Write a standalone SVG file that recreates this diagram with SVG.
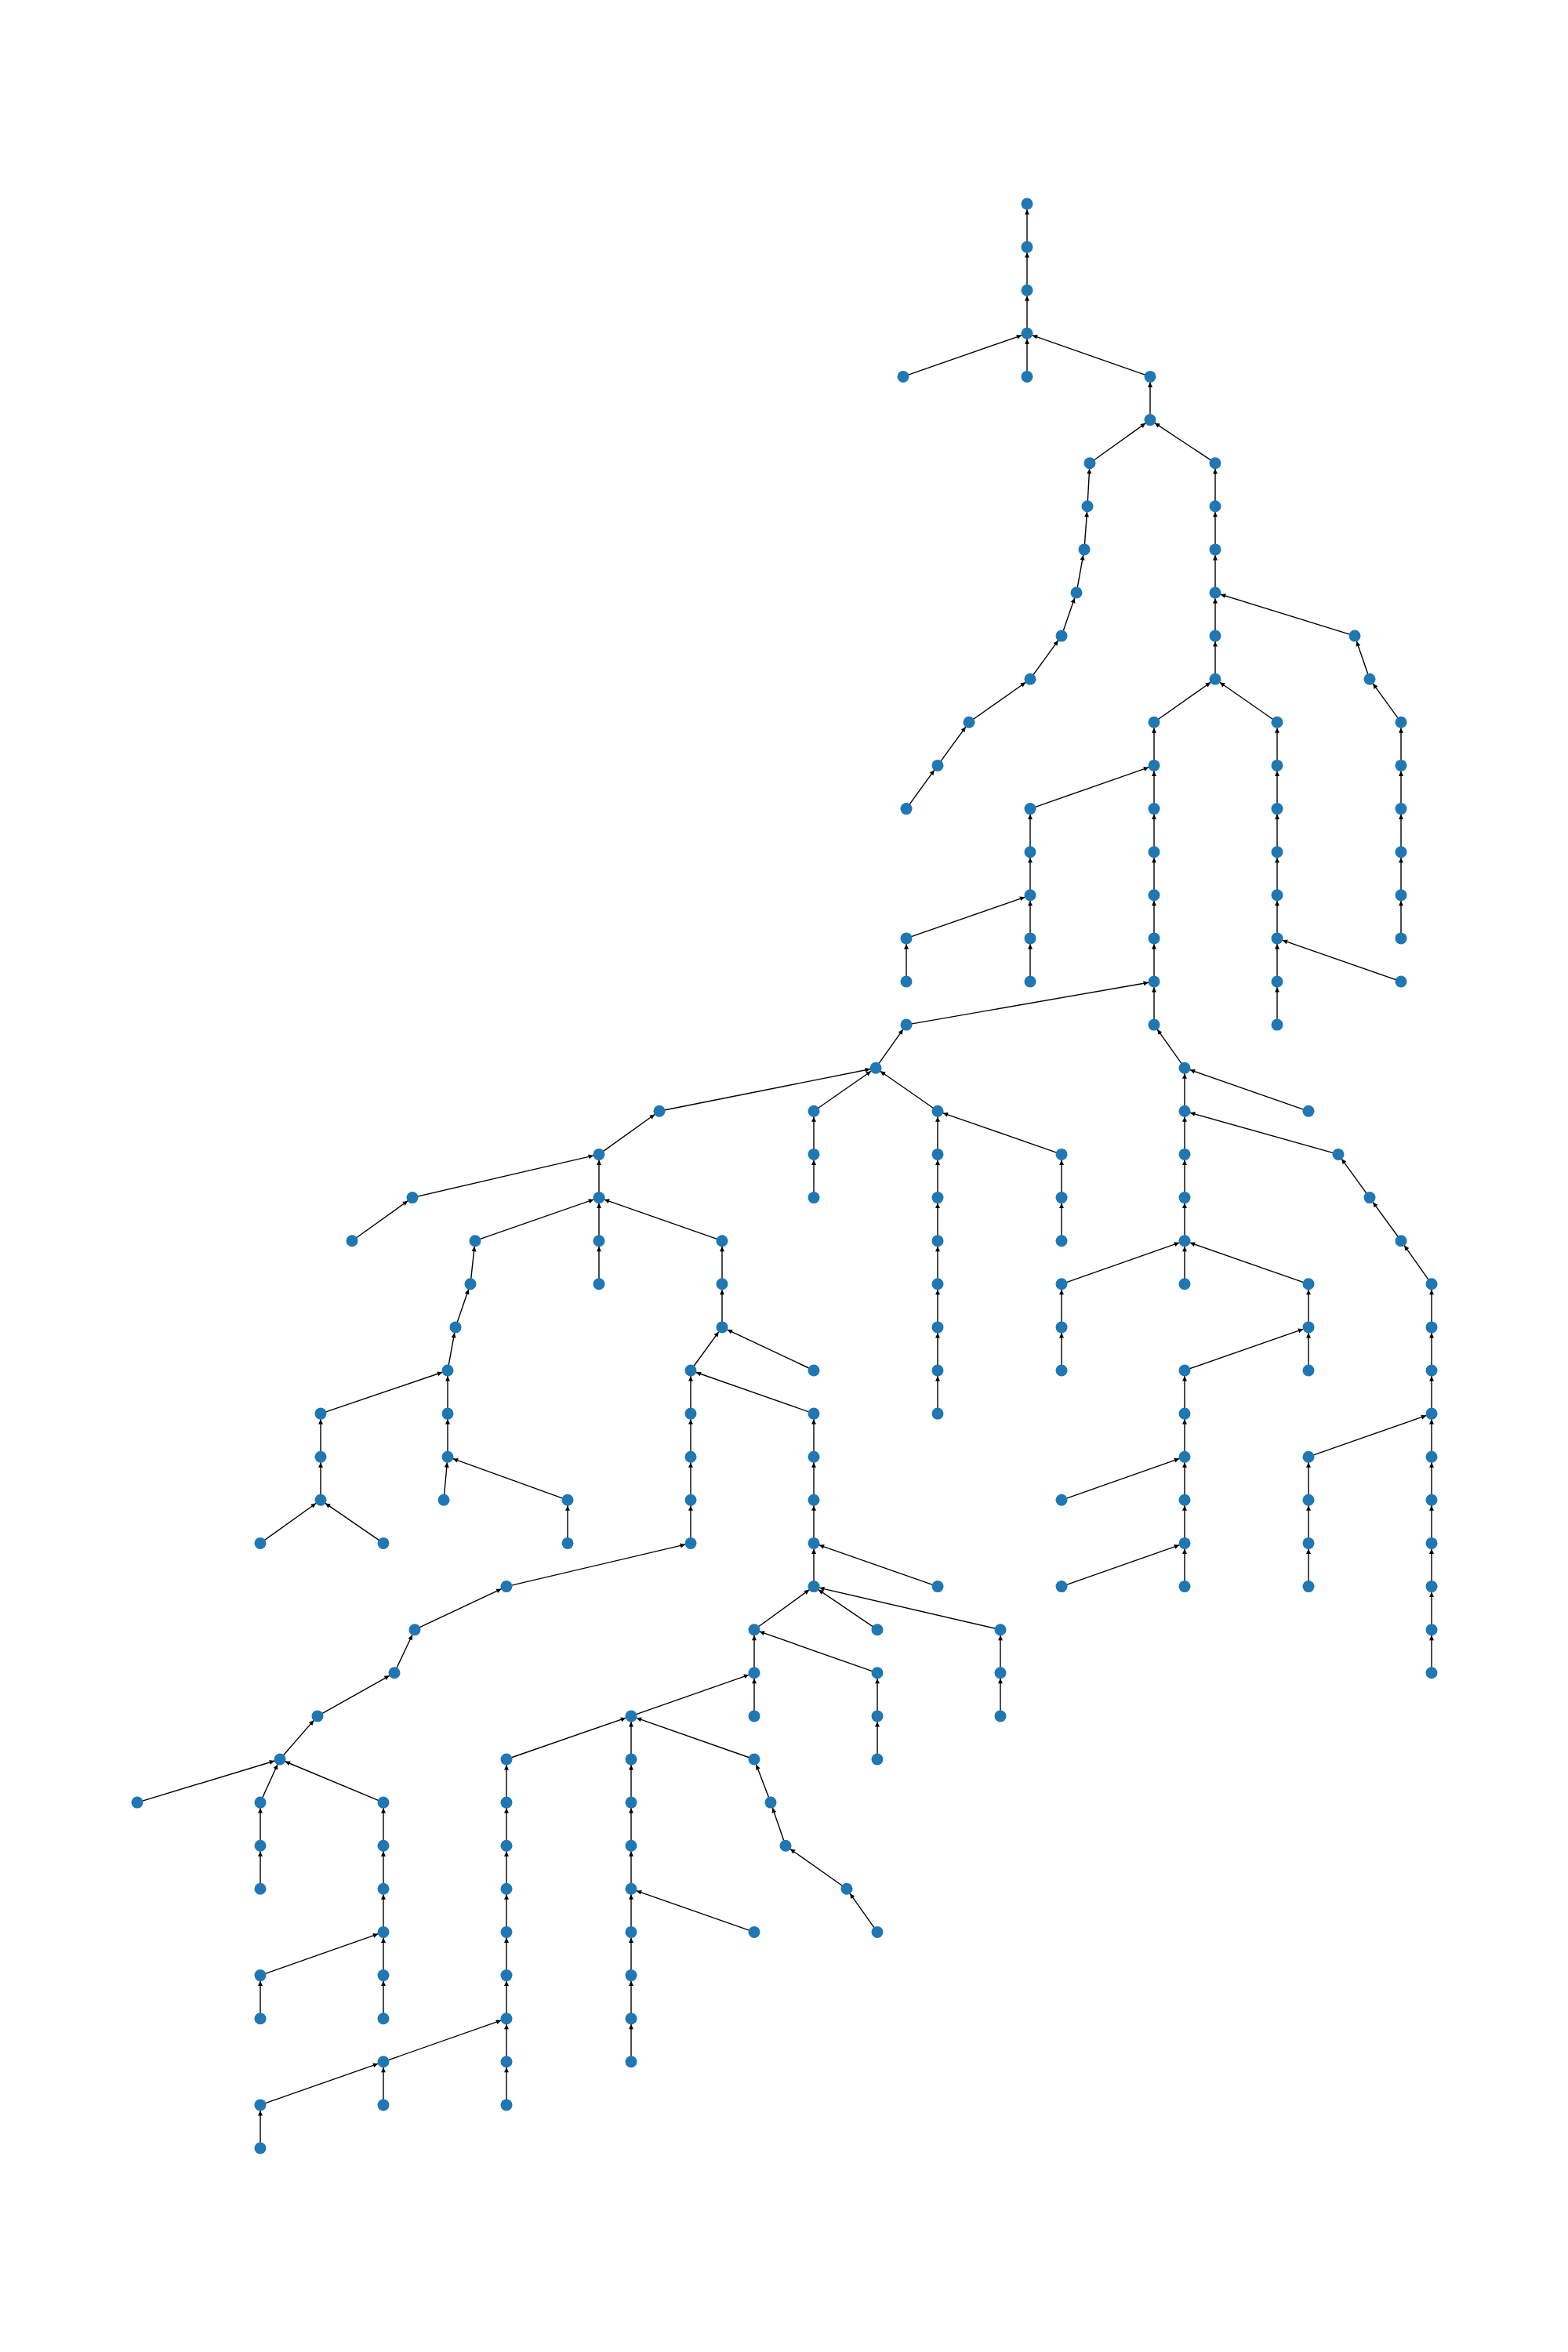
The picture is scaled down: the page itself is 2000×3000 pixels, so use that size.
<svg xmlns="http://www.w3.org/2000/svg" width="2000" height="3000" viewBox="0 0 2000 3000">
<style>
.e line{stroke:#000;stroke-width:1.4;marker-end:url(#ah)}
.n circle{fill:#1f77b4}
</style>
<defs>
<marker id="ah" markerUnits="userSpaceOnUse" markerWidth="15" markerHeight="6" refX="13.5" refY="3" orient="auto" overflow="visible"><path d="M0,0 L6.3,3 L0,6 z" fill="#000"/></marker>
</defs>
<rect width="2000" height="3000" fill="#fff"/>
<g id="edges" class="e">
<line x1="1310" y1="315.1" x2="1310" y2="260"/>
<line x1="1310" y1="370.2" x2="1310" y2="315.1"/>
<line x1="1310" y1="425.3" x2="1310" y2="370.2"/>
<line x1="1152" y1="480.4" x2="1310" y2="425.3"/>
<line x1="1310" y1="480.4" x2="1310" y2="425.3"/>
<line x1="1467" y1="480.4" x2="1310" y2="425.3"/>
<line x1="1467" y1="535.6" x2="1467" y2="480.4"/>
<line x1="1390" y1="590.7" x2="1467" y2="535.6"/>
<line x1="1550" y1="590.7" x2="1467" y2="535.6"/>
<line x1="1387" y1="645.8" x2="1390" y2="590.7"/>
<line x1="1550" y1="645.8" x2="1550" y2="590.7"/>
<line x1="1383" y1="700.9" x2="1387" y2="645.8"/>
<line x1="1550" y1="700.9" x2="1550" y2="645.8"/>
<line x1="1373" y1="756" x2="1383" y2="700.9"/>
<line x1="1550" y1="756" x2="1550" y2="700.9"/>
<line x1="1354" y1="811.1" x2="1373" y2="756"/>
<line x1="1550" y1="811.1" x2="1550" y2="756"/>
<line x1="1728" y1="811.1" x2="1550" y2="756"/>
<line x1="1314" y1="866.2" x2="1354" y2="811.1"/>
<line x1="1550" y1="866.2" x2="1550" y2="811.1"/>
<line x1="1747" y1="866.2" x2="1728" y2="811.1"/>
<line x1="1236" y1="921.3" x2="1314" y2="866.2"/>
<line x1="1472" y1="921.3" x2="1550" y2="866.2"/>
<line x1="1629" y1="921.3" x2="1550" y2="866.2"/>
<line x1="1787" y1="921.3" x2="1747" y2="866.2"/>
<line x1="1196" y1="976.4" x2="1236" y2="921.3"/>
<line x1="1472" y1="976.4" x2="1472" y2="921.3"/>
<line x1="1629" y1="976.4" x2="1629" y2="921.3"/>
<line x1="1787" y1="976.4" x2="1787" y2="921.3"/>
<line x1="1156" y1="1031.6" x2="1196" y2="976.4"/>
<line x1="1314" y1="1031.6" x2="1472" y2="976.4"/>
<line x1="1472" y1="1031.6" x2="1472" y2="976.4"/>
<line x1="1629" y1="1031.6" x2="1629" y2="976.4"/>
<line x1="1787" y1="1031.6" x2="1787" y2="976.4"/>
<line x1="1314" y1="1086.7" x2="1314" y2="1031.6"/>
<line x1="1472" y1="1086.7" x2="1472" y2="1031.6"/>
<line x1="1629" y1="1086.7" x2="1629" y2="1031.6"/>
<line x1="1787" y1="1086.7" x2="1787" y2="1031.6"/>
<line x1="1314" y1="1141.8" x2="1314" y2="1086.7"/>
<line x1="1472" y1="1141.8" x2="1472" y2="1086.7"/>
<line x1="1629" y1="1141.8" x2="1629" y2="1086.7"/>
<line x1="1787" y1="1141.8" x2="1787" y2="1086.7"/>
<line x1="1156" y1="1196.9" x2="1314" y2="1141.8"/>
<line x1="1314" y1="1196.9" x2="1314" y2="1141.8"/>
<line x1="1472" y1="1196.9" x2="1472" y2="1141.8"/>
<line x1="1629" y1="1196.9" x2="1629" y2="1141.8"/>
<line x1="1787" y1="1196.9" x2="1787" y2="1141.8"/>
<line x1="1156" y1="1252" x2="1156" y2="1196.9"/>
<line x1="1314" y1="1252" x2="1314" y2="1196.9"/>
<line x1="1472" y1="1252" x2="1472" y2="1196.9"/>
<line x1="1629" y1="1252" x2="1629" y2="1196.9"/>
<line x1="1787" y1="1252" x2="1629" y2="1196.9"/>
<line x1="1156" y1="1307.1" x2="1472" y2="1252"/>
<line x1="1472" y1="1307.1" x2="1472" y2="1252"/>
<line x1="1629" y1="1307.1" x2="1629" y2="1252"/>
<line x1="1117" y1="1362.2" x2="1156" y2="1307.1"/>
<line x1="1511" y1="1362.2" x2="1472" y2="1307.1"/>
<line x1="841" y1="1417.3" x2="1117" y2="1362.2"/>
<line x1="1038" y1="1417.3" x2="1117" y2="1362.2"/>
<line x1="1196" y1="1417.3" x2="1117" y2="1362.2"/>
<line x1="1511" y1="1417.3" x2="1511" y2="1362.2"/>
<line x1="1669" y1="1417.3" x2="1511" y2="1362.2"/>
<line x1="764" y1="1472.4" x2="841" y2="1417.3"/>
<line x1="1038" y1="1472.4" x2="1038" y2="1417.3"/>
<line x1="1196" y1="1472.4" x2="1196" y2="1417.3"/>
<line x1="1354" y1="1472.4" x2="1196" y2="1417.3"/>
<line x1="1511" y1="1472.4" x2="1511" y2="1417.3"/>
<line x1="1707" y1="1472.4" x2="1511" y2="1417.3"/>
<line x1="526" y1="1527.6" x2="764" y2="1472.4"/>
<line x1="764" y1="1527.6" x2="764" y2="1472.4"/>
<line x1="1038" y1="1527.6" x2="1038" y2="1472.4"/>
<line x1="1196" y1="1527.6" x2="1196" y2="1472.4"/>
<line x1="1354" y1="1527.6" x2="1354" y2="1472.4"/>
<line x1="1511" y1="1527.6" x2="1511" y2="1472.4"/>
<line x1="1747" y1="1527.6" x2="1707" y2="1472.4"/>
<line x1="449" y1="1582.7" x2="526" y2="1527.6"/>
<line x1="606" y1="1582.7" x2="764" y2="1527.6"/>
<line x1="764" y1="1582.7" x2="764" y2="1527.6"/>
<line x1="921" y1="1582.7" x2="764" y2="1527.6"/>
<line x1="1196" y1="1582.7" x2="1196" y2="1527.6"/>
<line x1="1354" y1="1582.7" x2="1354" y2="1527.6"/>
<line x1="1511" y1="1582.7" x2="1511" y2="1527.6"/>
<line x1="1787" y1="1582.7" x2="1747" y2="1527.6"/>
<line x1="600" y1="1637.8" x2="606" y2="1582.7"/>
<line x1="764" y1="1637.8" x2="764" y2="1582.7"/>
<line x1="921" y1="1637.8" x2="921" y2="1582.7"/>
<line x1="1196" y1="1637.8" x2="1196" y2="1582.7"/>
<line x1="1354" y1="1637.8" x2="1511" y2="1582.7"/>
<line x1="1511" y1="1637.8" x2="1511" y2="1582.7"/>
<line x1="1669" y1="1637.8" x2="1511" y2="1582.7"/>
<line x1="1826" y1="1637.8" x2="1787" y2="1582.7"/>
<line x1="581" y1="1692.9" x2="600" y2="1637.8"/>
<line x1="921" y1="1692.9" x2="921" y2="1637.8"/>
<line x1="1196" y1="1692.9" x2="1196" y2="1637.8"/>
<line x1="1354" y1="1692.9" x2="1354" y2="1637.8"/>
<line x1="1669" y1="1692.9" x2="1669" y2="1637.8"/>
<line x1="1826" y1="1692.9" x2="1826" y2="1637.8"/>
<line x1="571" y1="1748" x2="581" y2="1692.9"/>
<line x1="881" y1="1748" x2="921" y2="1692.9"/>
<line x1="1038" y1="1748" x2="921" y2="1692.9"/>
<line x1="1196" y1="1748" x2="1196" y2="1692.9"/>
<line x1="1354" y1="1748" x2="1354" y2="1692.9"/>
<line x1="1511" y1="1748" x2="1669" y2="1692.9"/>
<line x1="1669" y1="1748" x2="1669" y2="1692.9"/>
<line x1="1826" y1="1748" x2="1826" y2="1692.9"/>
<line x1="409" y1="1803.1" x2="571" y2="1748"/>
<line x1="571" y1="1803.1" x2="571" y2="1748"/>
<line x1="881" y1="1803.1" x2="881" y2="1748"/>
<line x1="1038" y1="1803.1" x2="881" y2="1748"/>
<line x1="1196" y1="1803.1" x2="1196" y2="1748"/>
<line x1="1511" y1="1803.1" x2="1511" y2="1748"/>
<line x1="1826" y1="1803.1" x2="1826" y2="1748"/>
<line x1="409" y1="1858.2" x2="409" y2="1803.1"/>
<line x1="571" y1="1858.2" x2="571" y2="1803.1"/>
<line x1="881" y1="1858.2" x2="881" y2="1803.1"/>
<line x1="1038" y1="1858.2" x2="1038" y2="1803.1"/>
<line x1="1511" y1="1858.2" x2="1511" y2="1803.1"/>
<line x1="1669" y1="1858.2" x2="1826" y2="1803.1"/>
<line x1="1826" y1="1858.2" x2="1826" y2="1803.1"/>
<line x1="409" y1="1913.3" x2="409" y2="1858.2"/>
<line x1="566" y1="1913.3" x2="571" y2="1858.2"/>
<line x1="724" y1="1913.3" x2="571" y2="1858.2"/>
<line x1="881" y1="1913.3" x2="881" y2="1858.2"/>
<line x1="1038" y1="1913.3" x2="1038" y2="1858.2"/>
<line x1="1354" y1="1913.3" x2="1511" y2="1858.2"/>
<line x1="1511" y1="1913.3" x2="1511" y2="1858.2"/>
<line x1="1669" y1="1913.3" x2="1669" y2="1858.2"/>
<line x1="1826" y1="1913.3" x2="1826" y2="1858.2"/>
<line x1="332" y1="1968.4" x2="409" y2="1913.3"/>
<line x1="489" y1="1968.4" x2="409" y2="1913.3"/>
<line x1="724" y1="1968.4" x2="724" y2="1913.3"/>
<line x1="881" y1="1968.4" x2="881" y2="1913.3"/>
<line x1="1038" y1="1968.4" x2="1038" y2="1913.3"/>
<line x1="1511" y1="1968.4" x2="1511" y2="1913.3"/>
<line x1="1669" y1="1968.4" x2="1669" y2="1913.3"/>
<line x1="1826" y1="1968.4" x2="1826" y2="1913.3"/>
<line x1="646" y1="2023.6" x2="881" y2="1968.4"/>
<line x1="1038" y1="2023.6" x2="1038" y2="1968.4"/>
<line x1="1196" y1="2023.6" x2="1038" y2="1968.4"/>
<line x1="1354" y1="2023.6" x2="1511" y2="1968.4"/>
<line x1="1511" y1="2023.6" x2="1511" y2="1968.4"/>
<line x1="1669" y1="2023.6" x2="1669" y2="1968.4"/>
<line x1="1826" y1="2023.6" x2="1826" y2="1968.4"/>
<line x1="529" y1="2078.7" x2="646" y2="2023.6"/>
<line x1="962" y1="2078.7" x2="1038" y2="2023.6"/>
<line x1="1119" y1="2078.7" x2="1038" y2="2023.6"/>
<line x1="1276" y1="2078.7" x2="1038" y2="2023.6"/>
<line x1="1826" y1="2078.7" x2="1826" y2="2023.6"/>
<line x1="503" y1="2133.8" x2="529" y2="2078.7"/>
<line x1="962" y1="2133.8" x2="962" y2="2078.7"/>
<line x1="1119" y1="2133.8" x2="962" y2="2078.7"/>
<line x1="1276" y1="2133.8" x2="1276" y2="2078.7"/>
<line x1="1826" y1="2133.8" x2="1826" y2="2078.7"/>
<line x1="405" y1="2188.9" x2="503" y2="2133.8"/>
<line x1="805" y1="2188.9" x2="962" y2="2133.8"/>
<line x1="962" y1="2188.9" x2="962" y2="2133.8"/>
<line x1="1119" y1="2188.9" x2="1119" y2="2133.8"/>
<line x1="1276" y1="2188.9" x2="1276" y2="2133.8"/>
<line x1="357" y1="2244" x2="405" y2="2188.9"/>
<line x1="646" y1="2244" x2="805" y2="2188.9"/>
<line x1="805" y1="2244" x2="805" y2="2188.9"/>
<line x1="962" y1="2244" x2="805" y2="2188.9"/>
<line x1="1119" y1="2244" x2="1119" y2="2188.9"/>
<line x1="175" y1="2299.1" x2="357" y2="2244"/>
<line x1="332" y1="2299.1" x2="357" y2="2244"/>
<line x1="489" y1="2299.1" x2="357" y2="2244"/>
<line x1="646" y1="2299.1" x2="646" y2="2244"/>
<line x1="805" y1="2299.1" x2="805" y2="2244"/>
<line x1="983" y1="2299.1" x2="962" y2="2244"/>
<line x1="332" y1="2354.2" x2="332" y2="2299.1"/>
<line x1="489" y1="2354.2" x2="489" y2="2299.1"/>
<line x1="646" y1="2354.2" x2="646" y2="2299.1"/>
<line x1="805" y1="2354.2" x2="805" y2="2299.1"/>
<line x1="1002" y1="2354.2" x2="983" y2="2299.1"/>
<line x1="332" y1="2409.3" x2="332" y2="2354.2"/>
<line x1="489" y1="2409.3" x2="489" y2="2354.2"/>
<line x1="646" y1="2409.3" x2="646" y2="2354.2"/>
<line x1="805" y1="2409.3" x2="805" y2="2354.2"/>
<line x1="1080" y1="2409.3" x2="1002" y2="2354.2"/>
<line x1="489" y1="2464.4" x2="489" y2="2409.3"/>
<line x1="646" y1="2464.4" x2="646" y2="2409.3"/>
<line x1="805" y1="2464.4" x2="805" y2="2409.3"/>
<line x1="962" y1="2464.4" x2="805" y2="2409.3"/>
<line x1="1119" y1="2464.4" x2="1080" y2="2409.3"/>
<line x1="332" y1="2519.6" x2="489" y2="2464.4"/>
<line x1="489" y1="2519.6" x2="489" y2="2464.4"/>
<line x1="646" y1="2519.6" x2="646" y2="2464.4"/>
<line x1="805" y1="2519.6" x2="805" y2="2464.4"/>
<line x1="332" y1="2574.7" x2="332" y2="2519.6"/>
<line x1="489" y1="2574.7" x2="489" y2="2519.6"/>
<line x1="646" y1="2574.7" x2="646" y2="2519.6"/>
<line x1="805" y1="2574.7" x2="805" y2="2519.6"/>
<line x1="489" y1="2629.8" x2="646" y2="2574.7"/>
<line x1="646" y1="2629.8" x2="646" y2="2574.7"/>
<line x1="805" y1="2629.8" x2="805" y2="2574.7"/>
<line x1="332" y1="2684.9" x2="489" y2="2629.8"/>
<line x1="489" y1="2684.9" x2="489" y2="2629.8"/>
<line x1="646" y1="2684.9" x2="646" y2="2629.8"/>
<line x1="332" y1="2740" x2="332" y2="2684.9"/>
</g>
<g id="nodes" class="n">
<g id="n1"><circle cx="1310" cy="260" r="7.5"/></g>
<g id="n2"><circle cx="1310" cy="315.1" r="7.5"/></g>
<g id="n3"><circle cx="1310" cy="370.2" r="7.5"/></g>
<g id="n4"><circle cx="1310" cy="425.3" r="7.5"/></g>
<g id="n5"><circle cx="1152" cy="480.4" r="7.5"/></g>
<g id="n6"><circle cx="1310" cy="480.4" r="7.5"/></g>
<g id="n7"><circle cx="1467" cy="480.4" r="7.5"/></g>
<g id="n8"><circle cx="1467" cy="535.6" r="7.5"/></g>
<g id="n9"><circle cx="1390" cy="590.7" r="7.5"/></g>
<g id="n10"><circle cx="1550" cy="590.7" r="7.5"/></g>
<g id="n11"><circle cx="1387" cy="645.8" r="7.5"/></g>
<g id="n12"><circle cx="1550" cy="645.8" r="7.5"/></g>
<g id="n13"><circle cx="1383" cy="700.9" r="7.5"/></g>
<g id="n14"><circle cx="1550" cy="700.9" r="7.5"/></g>
<g id="n15"><circle cx="1373" cy="756" r="7.5"/></g>
<g id="n16"><circle cx="1550" cy="756" r="7.5"/></g>
<g id="n17"><circle cx="1354" cy="811.1" r="7.5"/></g>
<g id="n18"><circle cx="1550" cy="811.1" r="7.5"/></g>
<g id="n19"><circle cx="1728" cy="811.1" r="7.5"/></g>
<g id="n20"><circle cx="1314" cy="866.2" r="7.5"/></g>
<g id="n21"><circle cx="1550" cy="866.2" r="7.5"/></g>
<g id="n22"><circle cx="1747" cy="866.2" r="7.5"/></g>
<g id="n23"><circle cx="1236" cy="921.3" r="7.5"/></g>
<g id="n24"><circle cx="1472" cy="921.3" r="7.5"/></g>
<g id="n25"><circle cx="1629" cy="921.3" r="7.5"/></g>
<g id="n26"><circle cx="1787" cy="921.3" r="7.5"/></g>
<g id="n27"><circle cx="1196" cy="976.4" r="7.5"/></g>
<g id="n28"><circle cx="1472" cy="976.4" r="7.5"/></g>
<g id="n29"><circle cx="1629" cy="976.4" r="7.5"/></g>
<g id="n30"><circle cx="1787" cy="976.4" r="7.5"/></g>
<g id="n31"><circle cx="1156" cy="1031.6" r="7.5"/></g>
<g id="n32"><circle cx="1314" cy="1031.6" r="7.5"/></g>
<g id="n33"><circle cx="1472" cy="1031.6" r="7.5"/></g>
<g id="n34"><circle cx="1629" cy="1031.6" r="7.5"/></g>
<g id="n35"><circle cx="1787" cy="1031.6" r="7.5"/></g>
<g id="n36"><circle cx="1314" cy="1086.7" r="7.5"/></g>
<g id="n37"><circle cx="1472" cy="1086.7" r="7.5"/></g>
<g id="n38"><circle cx="1629" cy="1086.7" r="7.5"/></g>
<g id="n39"><circle cx="1787" cy="1086.7" r="7.5"/></g>
<g id="n40"><circle cx="1314" cy="1141.8" r="7.5"/></g>
<g id="n41"><circle cx="1472" cy="1141.8" r="7.5"/></g>
<g id="n42"><circle cx="1629" cy="1141.8" r="7.5"/></g>
<g id="n43"><circle cx="1787" cy="1141.8" r="7.5"/></g>
<g id="n44"><circle cx="1156" cy="1196.9" r="7.5"/></g>
<g id="n45"><circle cx="1314" cy="1196.9" r="7.5"/></g>
<g id="n46"><circle cx="1472" cy="1196.9" r="7.5"/></g>
<g id="n47"><circle cx="1629" cy="1196.9" r="7.5"/></g>
<g id="n48"><circle cx="1787" cy="1196.9" r="7.5"/></g>
<g id="n49"><circle cx="1156" cy="1252" r="7.5"/></g>
<g id="n50"><circle cx="1314" cy="1252" r="7.5"/></g>
<g id="n51"><circle cx="1472" cy="1252" r="7.5"/></g>
<g id="n52"><circle cx="1629" cy="1252" r="7.5"/></g>
<g id="n53"><circle cx="1787" cy="1252" r="7.5"/></g>
<g id="n54"><circle cx="1156" cy="1307.1" r="7.5"/></g>
<g id="n55"><circle cx="1472" cy="1307.1" r="7.5"/></g>
<g id="n56"><circle cx="1629" cy="1307.1" r="7.5"/></g>
<g id="n57"><circle cx="1117" cy="1362.2" r="7.5"/></g>
<g id="n58"><circle cx="1511" cy="1362.2" r="7.5"/></g>
<g id="n59"><circle cx="841" cy="1417.3" r="7.5"/></g>
<g id="n60"><circle cx="1038" cy="1417.3" r="7.5"/></g>
<g id="n61"><circle cx="1196" cy="1417.3" r="7.5"/></g>
<g id="n62"><circle cx="1511" cy="1417.3" r="7.5"/></g>
<g id="n63"><circle cx="1669" cy="1417.3" r="7.5"/></g>
<g id="n64"><circle cx="764" cy="1472.4" r="7.5"/></g>
<g id="n65"><circle cx="1038" cy="1472.4" r="7.5"/></g>
<g id="n66"><circle cx="1196" cy="1472.4" r="7.5"/></g>
<g id="n67"><circle cx="1354" cy="1472.4" r="7.5"/></g>
<g id="n68"><circle cx="1511" cy="1472.4" r="7.5"/></g>
<g id="n69"><circle cx="1707" cy="1472.4" r="7.5"/></g>
<g id="n70"><circle cx="526" cy="1527.6" r="7.5"/></g>
<g id="n71"><circle cx="764" cy="1527.6" r="7.5"/></g>
<g id="n72"><circle cx="1038" cy="1527.6" r="7.5"/></g>
<g id="n73"><circle cx="1196" cy="1527.6" r="7.5"/></g>
<g id="n74"><circle cx="1354" cy="1527.6" r="7.5"/></g>
<g id="n75"><circle cx="1511" cy="1527.6" r="7.5"/></g>
<g id="n76"><circle cx="1747" cy="1527.6" r="7.5"/></g>
<g id="n77"><circle cx="449" cy="1582.7" r="7.5"/></g>
<g id="n78"><circle cx="606" cy="1582.7" r="7.5"/></g>
<g id="n79"><circle cx="764" cy="1582.7" r="7.5"/></g>
<g id="n80"><circle cx="921" cy="1582.7" r="7.5"/></g>
<g id="n81"><circle cx="1196" cy="1582.7" r="7.5"/></g>
<g id="n82"><circle cx="1354" cy="1582.7" r="7.5"/></g>
<g id="n83"><circle cx="1511" cy="1582.7" r="7.5"/></g>
<g id="n84"><circle cx="1787" cy="1582.7" r="7.5"/></g>
<g id="n85"><circle cx="600" cy="1637.8" r="7.5"/></g>
<g id="n86"><circle cx="764" cy="1637.8" r="7.5"/></g>
<g id="n87"><circle cx="921" cy="1637.8" r="7.5"/></g>
<g id="n88"><circle cx="1196" cy="1637.8" r="7.5"/></g>
<g id="n89"><circle cx="1354" cy="1637.8" r="7.5"/></g>
<g id="n90"><circle cx="1511" cy="1637.8" r="7.5"/></g>
<g id="n91"><circle cx="1669" cy="1637.8" r="7.5"/></g>
<g id="n92"><circle cx="1826" cy="1637.8" r="7.5"/></g>
<g id="n93"><circle cx="581" cy="1692.9" r="7.5"/></g>
<g id="n94"><circle cx="921" cy="1692.9" r="7.5"/></g>
<g id="n95"><circle cx="1196" cy="1692.9" r="7.5"/></g>
<g id="n96"><circle cx="1354" cy="1692.9" r="7.5"/></g>
<g id="n97"><circle cx="1669" cy="1692.9" r="7.5"/></g>
<g id="n98"><circle cx="1826" cy="1692.9" r="7.5"/></g>
<g id="n99"><circle cx="571" cy="1748" r="7.5"/></g>
<g id="n100"><circle cx="881" cy="1748" r="7.5"/></g>
<g id="n101"><circle cx="1038" cy="1748" r="7.5"/></g>
<g id="n102"><circle cx="1196" cy="1748" r="7.5"/></g>
<g id="n103"><circle cx="1354" cy="1748" r="7.5"/></g>
<g id="n104"><circle cx="1511" cy="1748" r="7.5"/></g>
<g id="n105"><circle cx="1669" cy="1748" r="7.5"/></g>
<g id="n106"><circle cx="1826" cy="1748" r="7.5"/></g>
<g id="n107"><circle cx="409" cy="1803.1" r="7.5"/></g>
<g id="n108"><circle cx="571" cy="1803.1" r="7.5"/></g>
<g id="n109"><circle cx="881" cy="1803.1" r="7.5"/></g>
<g id="n110"><circle cx="1038" cy="1803.1" r="7.5"/></g>
<g id="n111"><circle cx="1196" cy="1803.1" r="7.5"/></g>
<g id="n112"><circle cx="1511" cy="1803.1" r="7.5"/></g>
<g id="n113"><circle cx="1826" cy="1803.1" r="7.5"/></g>
<g id="n114"><circle cx="409" cy="1858.2" r="7.5"/></g>
<g id="n115"><circle cx="571" cy="1858.2" r="7.5"/></g>
<g id="n116"><circle cx="881" cy="1858.2" r="7.5"/></g>
<g id="n117"><circle cx="1038" cy="1858.2" r="7.5"/></g>
<g id="n118"><circle cx="1511" cy="1858.2" r="7.5"/></g>
<g id="n119"><circle cx="1669" cy="1858.2" r="7.5"/></g>
<g id="n120"><circle cx="1826" cy="1858.2" r="7.5"/></g>
<g id="n121"><circle cx="409" cy="1913.3" r="7.5"/></g>
<g id="n122"><circle cx="566" cy="1913.3" r="7.5"/></g>
<g id="n123"><circle cx="724" cy="1913.3" r="7.5"/></g>
<g id="n124"><circle cx="881" cy="1913.3" r="7.5"/></g>
<g id="n125"><circle cx="1038" cy="1913.3" r="7.5"/></g>
<g id="n126"><circle cx="1354" cy="1913.3" r="7.5"/></g>
<g id="n127"><circle cx="1511" cy="1913.3" r="7.5"/></g>
<g id="n128"><circle cx="1669" cy="1913.3" r="7.5"/></g>
<g id="n129"><circle cx="1826" cy="1913.3" r="7.5"/></g>
<g id="n130"><circle cx="332" cy="1968.4" r="7.5"/></g>
<g id="n131"><circle cx="489" cy="1968.4" r="7.5"/></g>
<g id="n132"><circle cx="724" cy="1968.4" r="7.5"/></g>
<g id="n133"><circle cx="881" cy="1968.4" r="7.5"/></g>
<g id="n134"><circle cx="1038" cy="1968.4" r="7.5"/></g>
<g id="n135"><circle cx="1511" cy="1968.4" r="7.5"/></g>
<g id="n136"><circle cx="1669" cy="1968.4" r="7.5"/></g>
<g id="n137"><circle cx="1826" cy="1968.4" r="7.5"/></g>
<g id="n138"><circle cx="646" cy="2023.6" r="7.5"/></g>
<g id="n139"><circle cx="1038" cy="2023.6" r="7.5"/></g>
<g id="n140"><circle cx="1196" cy="2023.6" r="7.5"/></g>
<g id="n141"><circle cx="1354" cy="2023.6" r="7.5"/></g>
<g id="n142"><circle cx="1511" cy="2023.6" r="7.5"/></g>
<g id="n143"><circle cx="1669" cy="2023.6" r="7.5"/></g>
<g id="n144"><circle cx="1826" cy="2023.6" r="7.5"/></g>
<g id="n145"><circle cx="529" cy="2078.7" r="7.5"/></g>
<g id="n146"><circle cx="962" cy="2078.7" r="7.5"/></g>
<g id="n147"><circle cx="1119" cy="2078.7" r="7.5"/></g>
<g id="n148"><circle cx="1276" cy="2078.7" r="7.5"/></g>
<g id="n149"><circle cx="1826" cy="2078.7" r="7.5"/></g>
<g id="n150"><circle cx="503" cy="2133.8" r="7.5"/></g>
<g id="n151"><circle cx="962" cy="2133.8" r="7.5"/></g>
<g id="n152"><circle cx="1119" cy="2133.8" r="7.5"/></g>
<g id="n153"><circle cx="1276" cy="2133.8" r="7.5"/></g>
<g id="n154"><circle cx="1826" cy="2133.8" r="7.5"/></g>
<g id="n155"><circle cx="405" cy="2188.9" r="7.5"/></g>
<g id="n156"><circle cx="805" cy="2188.9" r="7.5"/></g>
<g id="n157"><circle cx="962" cy="2188.9" r="7.5"/></g>
<g id="n158"><circle cx="1119" cy="2188.9" r="7.5"/></g>
<g id="n159"><circle cx="1276" cy="2188.9" r="7.5"/></g>
<g id="n160"><circle cx="357" cy="2244" r="7.5"/></g>
<g id="n161"><circle cx="646" cy="2244" r="7.5"/></g>
<g id="n162"><circle cx="805" cy="2244" r="7.5"/></g>
<g id="n163"><circle cx="962" cy="2244" r="7.5"/></g>
<g id="n164"><circle cx="1119" cy="2244" r="7.5"/></g>
<g id="n165"><circle cx="175" cy="2299.1" r="7.5"/></g>
<g id="n166"><circle cx="332" cy="2299.1" r="7.5"/></g>
<g id="n167"><circle cx="489" cy="2299.1" r="7.5"/></g>
<g id="n168"><circle cx="646" cy="2299.1" r="7.5"/></g>
<g id="n169"><circle cx="805" cy="2299.1" r="7.5"/></g>
<g id="n170"><circle cx="983" cy="2299.1" r="7.5"/></g>
<g id="n171"><circle cx="332" cy="2354.2" r="7.5"/></g>
<g id="n172"><circle cx="489" cy="2354.2" r="7.5"/></g>
<g id="n173"><circle cx="646" cy="2354.2" r="7.5"/></g>
<g id="n174"><circle cx="805" cy="2354.2" r="7.5"/></g>
<g id="n175"><circle cx="1002" cy="2354.2" r="7.5"/></g>
<g id="n176"><circle cx="332" cy="2409.3" r="7.5"/></g>
<g id="n177"><circle cx="489" cy="2409.3" r="7.5"/></g>
<g id="n178"><circle cx="646" cy="2409.3" r="7.5"/></g>
<g id="n179"><circle cx="805" cy="2409.3" r="7.5"/></g>
<g id="n180"><circle cx="1080" cy="2409.3" r="7.5"/></g>
<g id="n181"><circle cx="489" cy="2464.4" r="7.5"/></g>
<g id="n182"><circle cx="646" cy="2464.4" r="7.5"/></g>
<g id="n183"><circle cx="805" cy="2464.4" r="7.5"/></g>
<g id="n184"><circle cx="962" cy="2464.4" r="7.5"/></g>
<g id="n185"><circle cx="1119" cy="2464.4" r="7.5"/></g>
<g id="n186"><circle cx="332" cy="2519.6" r="7.5"/></g>
<g id="n187"><circle cx="489" cy="2519.6" r="7.5"/></g>
<g id="n188"><circle cx="646" cy="2519.6" r="7.5"/></g>
<g id="n189"><circle cx="805" cy="2519.6" r="7.5"/></g>
<g id="n190"><circle cx="332" cy="2574.7" r="7.5"/></g>
<g id="n191"><circle cx="489" cy="2574.7" r="7.5"/></g>
<g id="n192"><circle cx="646" cy="2574.7" r="7.5"/></g>
<g id="n193"><circle cx="805" cy="2574.7" r="7.5"/></g>
<g id="n194"><circle cx="489" cy="2629.8" r="7.5"/></g>
<g id="n195"><circle cx="646" cy="2629.8" r="7.5"/></g>
<g id="n196"><circle cx="805" cy="2629.8" r="7.5"/></g>
<g id="n197"><circle cx="332" cy="2684.9" r="7.5"/></g>
<g id="n198"><circle cx="489" cy="2684.9" r="7.5"/></g>
<g id="n199"><circle cx="646" cy="2684.9" r="7.5"/></g>
<g id="n200"><circle cx="332" cy="2740" r="7.5"/></g>
</g>
</svg>
